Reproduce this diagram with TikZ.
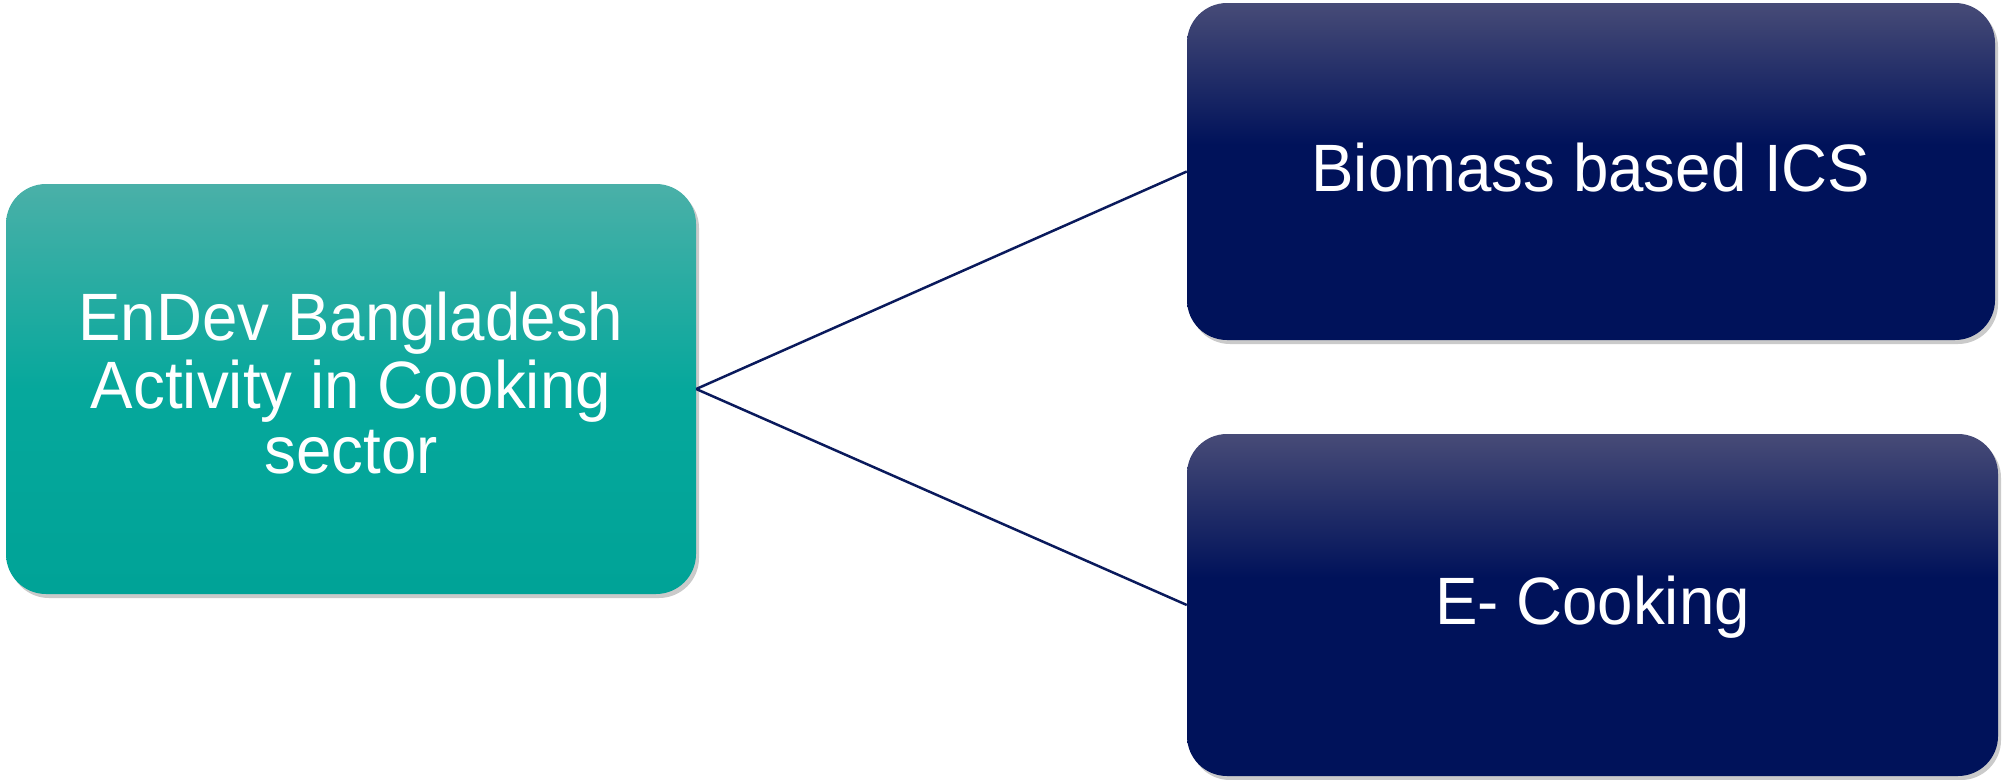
\documentclass[tikz,border=0pt]{standalone}
\usepackage{fontspec}
\setmainfont{Liberation Sans}
\usetikzlibrary{shadows}
\definecolor{tealtop}{HTML}{4AB0A8}
\definecolor{tealmid}{HTML}{06A89C}
\definecolor{tealbot}{HTML}{00A397}
\definecolor{navytop}{HTML}{474B77}
\definecolor{navybot}{HTML}{00125A}
\definecolor{linkcol}{HTML}{0A1A5C}
\pgfdeclareverticalshading{navyshade}{100bp}{color(0bp)=(navybot); color(25bp)=(navybot); color(54bp)=(navybot); color(75bp)=(navytop); color(100bp)=(navytop)}
\pgfdeclareverticalshading{tealshade}{100bp}{color(0bp)=(tealbot); color(25bp)=(tealbot); color(50bp)=(tealmid); color(75bp)=(tealtop); color(100bp)=(tealtop)}
\newcommand{\boxtext}[2]{\raisebox{-#1}[\height][\depth]{\scalebox{0.95}[1]{\begin{tabular}{@{}c@{}}#2\end{tabular}}}}
\tikzset{
  box/.style={rectangle, rounded corners=40pt, inner sep=0pt, text=white, align=center,
    font=\fontsize{67}{65}\selectfont,
    drop shadow={shadow xshift=3pt, shadow yshift=-4pt, opacity=0.35, fill=black!60}},
  tealbox/.style={box, shading=tealshade},
  navybox/.style={box, shading=navyshade},
  link/.style={draw=linkcol, line width=2.5pt}
}
\begin{document}
\begin{tikzpicture}[x=1pt,y=-1pt]
\useasboundingbox (0,0) rectangle (2005,779);
\node[tealbox, minimum width=690pt, minimum height=410pt] (main) at (351,389)
  {\boxtext{3pt}{EnDev Bangladesh\\Activity in Cooking\\sector}};
\node[navybox, minimum width=808pt, minimum height=337pt] (bio) at (1591,171.5)
  {\boxtext{5pt}{Biomass based ICS}};
\node[navybox, minimum width=811pt, minimum height=342pt] (ecook) at (1592.5,605)
  {\boxtext{5pt}{E- Cooking}};
\draw[link] (main.east) -- (bio.west);
\draw[link] (main.east) -- (ecook.west);
\end{tikzpicture}
\end{document}
